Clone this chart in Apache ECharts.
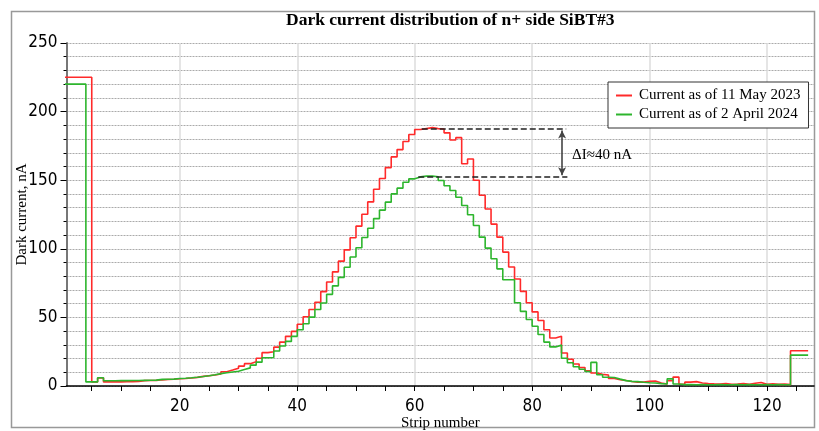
<!DOCTYPE html>
<html><head><meta charset="utf-8">
<script src="https://cdn.jsdelivr.net/npm/echarts@6/dist/echarts.min.js"></script>
<style>html,body{margin:0;padding:0;background:#fff}#c{width:819px;height:431px}</style>
</head><body><div id="c"></div>
<script>
const titleText = 'Dark current distribution of n+ side SiBT#3';
const seriesNames = ['Current as of 11 May 2023', 'Current as of 2 April 2024'];
const xName = 'Strip number';
const yName = 'Dark current, nA';
// strip numbers 1..127 (strip s spans [s-1, s] on the axis)
const strips = Array.from({length: 127}, (_, i) => i + 1);
const red = [
  225,225,225,225,225, 3,5.8,3.0,3.0,3.0, 3.1,3.2,3.3,3.9,4.0, 4.1,4.5,4.7,4.9,5.3,
  5.5,5.8,6.3,7.0,7.5, 8.0,8.8,10.4,11.6,13.0, 14.5,16.3,17.7,20.2,24.3, 25.0,28.3,32.0,36.2,39.8,
  45.0,50.5,55.8,61.0,68.8, 75.8,83.2,91.0,99.2,108.0, 116.5,125.2,134.2,143.4,151.2, 159.2,167.0,172.3,178.2,183.3,
  186.9,187.6,188.3,187.6,187.3, 184.5,179.3,181.0,162.0,165.4, 150.0,139.0,129.0,118.0,108.5, 97.6,86.7,78.0,69.0,60.7,
  54.0,47.7,41.0,35.0,36.2, 24.0,19.5,16.0,13.5,11.0, 9.5,8.5,8.0,5.5,4.5, 4.0,3.3,2.8,2.8,3.4,
  3.6,2.2,1.5,3.8,6.5, 1.3,2.8,3.2,2.2,1.8, 1.6,1.5,1.8,1.2,1.4, 1.8,1.2,2.0,2.6,1.2,
  1.6,1.2,1.4,1.0,25.7, 25.7,25.7
];
const green = [
  220,220,220,220,3, 3,6,3.8,3.8,3.9, 3.9,4.0,4.0,4.1,4.2, 4.3,4.8,4.9,5.0,5.5,
  5.7,6.0,6.4,6.9,7.5, 8.2,9.0,9.6,10.2,10.8, 12.0,13.2,15.2,17.4,20.6, 20.8,25.5,29.2,32.5,36.2,
  41.0,45.4,50.2,55.8,60.5, 66.8,73.0,79.2,86.6,94.0, 100.8,108.2,115.0,122.0,128.2, 134.0,140.0,144.2,148.5,151.0,
  152.4,153.0,153.0,152.5,149.8, 146.0,142.5,137.6,131.6,124.8, 117.0,108.5,100.5,92.7,85.4, 77.4,77.4,60.7,54.4,48.5,
  43.5,37.5,32.0,28.5,29.8, 20.2,17.0,14.0,12.2,10.6, 17.2,8.2,6.4,6.2,5.0, 3.9,3.4,3.2,2.7,2.4,
  2.2,1.7,1.5,5.2,1.5, 1.0,1.0,0.9,1.0,0.9, 0.9,1.0,0.9,0.9,1.0, 0.9,1.0,0.9,0.9,1.0,
  0.9,1.0,0.9,1.0,22.5, 22.5,22.5
];
const xTicks = [5,10,15,20,25,30,35,40,45,50,55,60,65,70,75,80,85,90,95,100,105,110,115,120,125];
const xLabels = [20,40,60,80,100,120];
const deltaTop = 187.3, deltaBottom = 152.6;
const deltaTopRange = [61.2, 85.8], deltaBottomRange = [60.6, 86.0];
const deltaArrowX = 85.1;
const deltaText = 'ΔI≈40 nA';
const deltaTextAt = [86.8, 168];

function stepPoints(vals) {
  const pts = vals.map((v, i) => [strips[i] - 1, v]);
  pts.push([strips[strips.length - 1], vals[vals.length - 1]]);
  return pts;
}
const serif = "'Liberation Serif','Times New Roman',serif";
const sans = "'Liberation Sans Narrow','DejaVu Sans Condensed','Liberation Sans',sans-serif";

const chart = echarts.init(document.getElementById('c'), null, {renderer: 'canvas'});
chart.setOption({
  animation: false,
  backgroundColor: '#fff',
  title: {text: titleText, left: 281, top: 6, textStyle: {fontFamily: serif, fontWeight: 'bold', fontSize: 17.5, color: '#000'}},
  graphic: [{type: 'rect', shape: {x: 11.5, y: 11.5, width: 803, height: 416}, style: {fill: 'none', stroke: '#999', lineWidth: 1.5}, silent: true}],
  legend: {
    data: seriesNames, orient: 'vertical', left: 608, top: 82,
    backgroundColor: '#fff', borderColor: '#333', borderWidth: 1, padding: [6, 8, 6, 8], itemGap: 4,
    itemWidth: 16, itemHeight: 14, icon: 'path://M0,6H16V8H0Z',
    textStyle: {fontFamily: serif, fontSize: 15, color: '#000', padding: [0, 0, 0, 2]}
  },
  grid: {left: 66.5, right: 5, top: 43, bottom: 45, containLabel: false, outerBoundsMode: 'none'},
  xAxis: [{
    type: 'value', min: 0.7, max: 128,
    name: xName, nameLocation: 'middle', nameGap: 30, nameMoveOverlap: false,
    nameTextStyle: {fontFamily: serif, fontSize: 15, color: '#000'},
    axisLine: {show: true, onZero: false, lineStyle: {color: '#000', width: 1.5}},
    axisTick: {show: true, customValues: xTicks, length: 5, lineStyle: {color: '#000'}},
    axisLabel: {customValues: xLabels, margin: 12, fontFamily: sans, fontSize: 17, color: '#000'},
    splitLine: {show: false}
  }, {
    type: 'value', min: 0.7, max: 128, position: 'bottom',
    axisLine: {show: false}, axisTick: {show: false, customValues: xLabels}, axisLabel: {show: false},
    splitLine: {show: true, lineStyle: {color: '#dcdcdc', width: 1.5, type: 'solid'}}
  }],
  yAxis: {
    type: 'value', min: 0, max: 250, interval: 50,
    name: yName, nameLocation: 'middle', nameGap: 37, nameMoveOverlap: false,
    nameTextStyle: {fontFamily: serif, fontSize: 15, color: '#000'},
    axisLine: {show: true, lineStyle: {color: '#777', width: 2}},
    axisTick: {show: true, length: 6, lineStyle: {color: '#000'}},
    minorTick: {show: true, splitNumber: 5, length: 3, lineStyle: {color: '#000'}},
    axisLabel: {margin: 9, fontFamily: sans, fontSize: 17, color: '#000'},
    splitLine: {show: true, lineStyle: {color: '#aaa', type: [2, 1], width: 1}},
    minorSplitLine: {show: true, lineStyle: {color: '#aaa', type: [2, 1], width: 1}}
  },
  series: [{
    name: seriesNames[0], type: 'line', step: 'end', symbol: 'none', xAxisIndex: 0,
    data: stepPoints(red), lineStyle: {color: '#ff2a2a', width: 1.6}, itemStyle: {color: '#ff2a2a'}, z: 3
  }, {
    name: seriesNames[1], type: 'line', step: 'end', symbol: 'none', xAxisIndex: 0,
    data: stepPoints(green), lineStyle: {color: '#2db52d', width: 1.6}, itemStyle: {color: '#2db52d'}, z: 4
  }, {
    name: 'annotation', type: 'line', data: [], xAxisIndex: 0, z: 6,
    markLine: {
      silent: true, symbol: ['none', 'none'], label: {show: false},
      lineStyle: {color: '#222', width: 1.6, type: [6, 3]},
      data: [
        [{coord: [deltaTopRange[0], deltaTop]}, {coord: [deltaTopRange[1], deltaTop]}],
        [{coord: [deltaBottomRange[0], deltaBottom]}, {coord: [deltaBottomRange[1], deltaBottom]}],
        [{coord: [deltaArrowX, deltaTop - 1], symbol: 'arrow', symbolSize: [6, 8], lineStyle: {type: 'solid', color: '#444', width: 1.6}},
         {coord: [deltaArrowX, deltaBottom + 1], symbol: 'arrow', symbolSize: [6, 8]}]
      ]
    },
    markPoint: {
      silent: true, symbol: 'circle', symbolSize: 0,
      data: [{coord: deltaTextAt, value: deltaText}],
      label: {show: true, position: 'right', distance: 0, formatter: deltaText, fontFamily: serif, fontSize: 15, color: '#000'}
    }
  }]
});
</script>
</body></html>
